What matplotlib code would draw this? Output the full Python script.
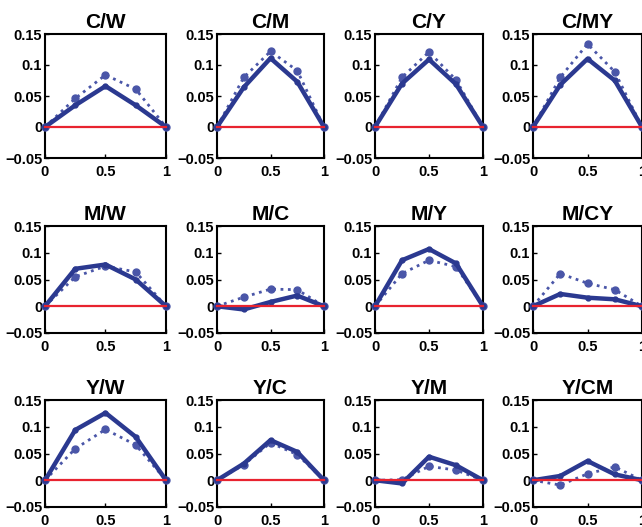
import matplotlib
matplotlib.use("Agg")
import matplotlib.pyplot as plt

plt.rcParams['font.family'] = ['Liberation Sans', 'DejaVu Sans']

x = [0, 0.25, 0.5, 0.75, 1.0]
titles = ["C/W", "C/M", "C/Y", "C/MY",
          "M/W", "M/C", "M/Y", "M/CY",
          "Y/W", "Y/C", "Y/M", "Y/CM"]

solid = {
    "C/W":  [0, 0.035, 0.066, 0.035, 0],
    "C/M":  [0, 0.064, 0.111, 0.073, 0],
    "C/Y":  [0, 0.070, 0.109, 0.069, 0],
    "C/MY": [0, 0.068, 0.110, 0.075, 0],
    "M/W":  [0, 0.070, 0.078, 0.050, 0],
    "M/C":  [0, -0.006, 0.008, 0.020, 0],
    "M/Y":  [0, 0.086, 0.107, 0.080, 0],
    "M/CY": [0, 0.023, 0.016, 0.013, 0],
    "Y/W":  [0, 0.094, 0.126, 0.081, 0],
    "Y/C":  [0, 0.031, 0.075, 0.053, 0],
    "Y/M":  [0, -0.006, 0.044, 0.028, 0],
    "Y/CM": [0, 0.008, 0.036, 0.011, 0],
}
dotted = {
    "C/W":  [0, 0.046, 0.084, 0.061, 0],
    "C/M":  [0, 0.080, 0.122, 0.091, 0],
    "C/Y":  [0, 0.080, 0.121, 0.076, 0],
    "C/MY": [0, 0.080, 0.134, 0.089, 0],
    "M/W":  [0, 0.055, 0.075, 0.064, 0],
    "M/C":  [0, 0.017, 0.032, 0.031, 0],
    "M/Y":  [0, 0.061, 0.086, 0.074, 0],
    "M/CY": [0, 0.061, 0.043, 0.031, 0],
    "Y/W":  [0, 0.059, 0.095, 0.066, 0],
    "Y/C":  [0, 0.029, 0.070, 0.048, 0],
    "Y/M":  [0, 0.001, 0.026, 0.019, 0],
    "Y/CM": [0, -0.009, 0.012, 0.025, 0],
}

yticks = [-0.05, 0, 0.05, 0.1, 0.15]
ytick_labels = ["\u22120.05", "0", "0.05", "0.1", "0.15"]
xticks = [0, 0.5, 1]
xtick_labels = ["0", "0.5", "1"]

W, H = 642, 527
col_left = [45, 217, 375, 533]
col_w = [121, 107, 108, 109]
row_top = [34, 226, 400]
row_bot = [158, 333, 507]

fig = plt.figure(figsize=(W / 100, H / 100), dpi=100)
blue = "#2B3990"
dblue = "#4A56A8"

for i, t in enumerate(titles):
    r, c = divmod(i, 4)
    ax = fig.add_axes([col_left[c] / W, 1 - row_bot[r] / H,
                       col_w[c] / W, (row_bot[r] - row_top[r]) / H])
    ax.plot(x, dotted[t], linestyle=':', color=dblue, lw=2.0,
            marker='o', ms=5, clip_on=False, zorder=3)
    ax.plot(x, solid[t], linestyle='-', color=blue, lw=3.2,
            marker='o', ms=3.5, clip_on=False, zorder=4)
    ax.plot([0, 1], [0, 0], color="#E8232F", lw=1.6, zorder=5, clip_on=False)
    ax.set_xlim(0, 1)
    ax.set_ylim(-0.05, 0.15)
    ax.set_xticks(xticks)
    ax.set_xticklabels(xtick_labels)
    ax.set_yticks(yticks)
    ax.set_yticklabels(ytick_labels)
    ax.tick_params(direction='in', length=3, width=1, labelsize=10.5)
    ax.tick_params(axis='x', pad=5)
    ax.tick_params(axis='y', pad=2)
    for lab in ax.get_xticklabels() + ax.get_yticklabels():
        lab.set_fontweight('bold')
    for s in ax.spines.values():
        s.set_linewidth(1.5)
    ax.set_title(t, fontsize=15, fontweight='bold', pad=4)

fig.savefig("out.png", dpi=100)
